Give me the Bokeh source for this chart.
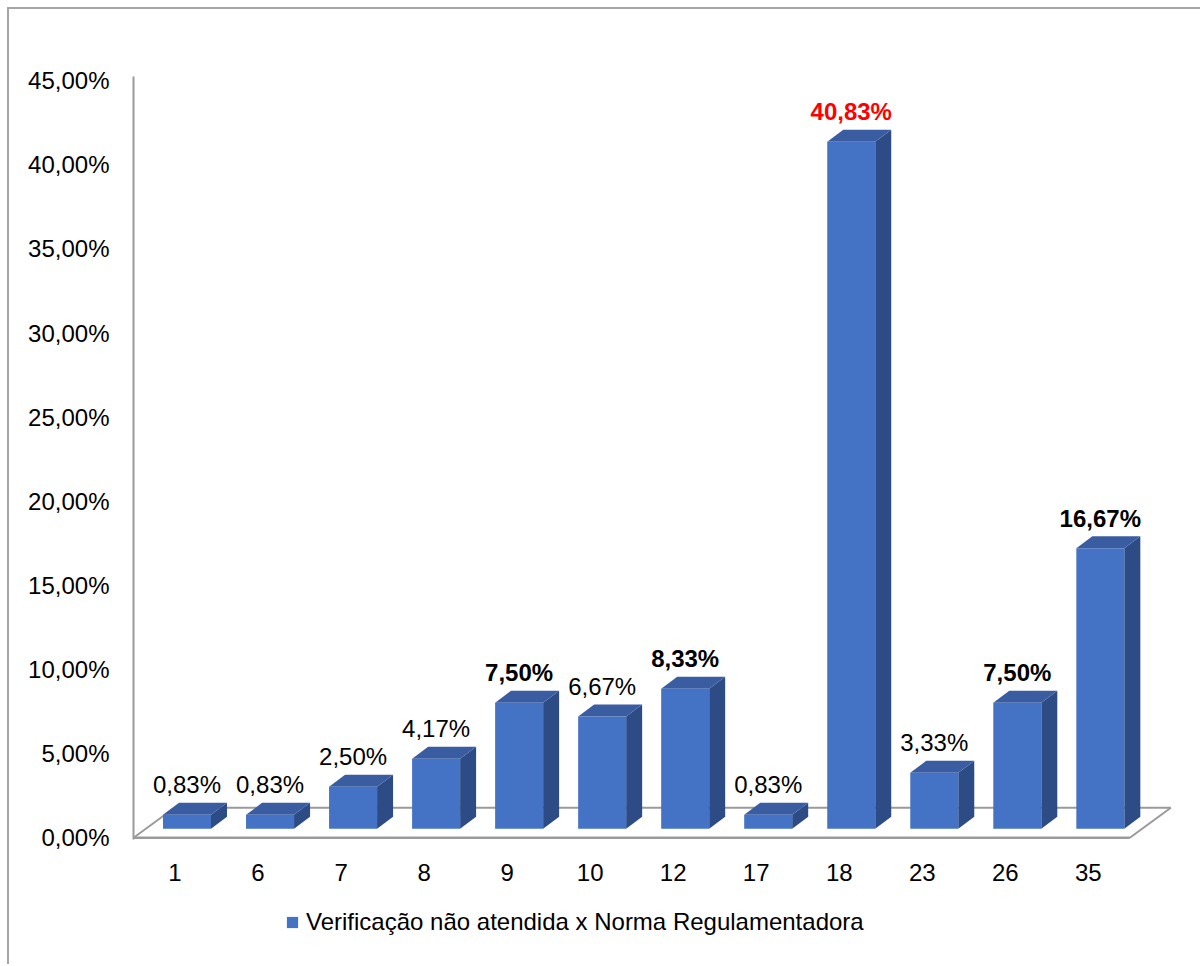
from bokeh.plotting import figure
from bokeh.layouts import column
from bokeh.models import Range1d, FixedTicker, ColumnDataSource, Legend, LegendItem
from bokeh.core.properties import value
from bokeh.embed import file_html
from bokeh.resources import INLINE

# ---------------- data ----------------
CATEGORIES = ["1", "6", "7", "8", "9", "10", "12", "17", "18", "23", "26", "35"]
VALUES = [0.83, 0.83, 2.50, 4.17, 7.50, 6.67, 8.33, 0.83, 40.83, 3.33, 7.50, 16.67]
Y_TICKS = [0, 5, 10, 15, 20, 25, 30, 35, 40, 45]
Y_TICK_LABELS = ["0,00%", "5,00%", "10,00%", "15,00%", "20,00%",
                 "25,00%", "30,00%", "35,00%", "40,00%", "45,00%"]
SERIES_NAME = "Verificação não atendida x Norma Regulamentadora"
BOLD_CATEGORIES = ["9", "12", "18", "26", "35"]
RED_CATEGORIES = ["18"]

# ---------------- style / geometry ----------------
FONT = "Liberation Sans"
FS = "24px"
W, H = 1193, 886
LEG_H = 71
ML, MT, MR, MB = 124, 67, 27, 56
X0, X1 = -0.5, 12.05
Y0, Y1 = -0.1, 45.25
PXX = (W - ML - MR) / (X1 - X0)
PXY = (H - MT - MB) / (Y1 - Y0)

BAR_SHIFT = 12 / PXX
HALF = 24 / PXX
BASE = 9 / PXY
DDX = 16 / PXX
DDY = 12 / PXY
FDX = 41 / PXX
FDY = 30 / PXY

FRONT = "#4472C4"
TOP = "#3A5DA2"
SIDE = "#2D4B84"
GRAY = "#9A9A9A"

n = len(CATEGORIES)
cx = [i + BAR_SHIFT for i in range(n)]
left = [c - HALF for c in cx]
right = [c + HALF for c in cx]
bottom = [BASE] * n
top = [BASE + v for v in VALUES]

top_xs = [[l, r, r + DDX, l + DDX] for l, r in zip(left, right)]
top_ys = [[t, t, t + DDY, t + DDY] for t in top]
side_xs = [[r, r + DDX, r + DDX, r] for r in right]
side_ys = [[BASE, BASE + DDY, t + DDY, t] for t in top]

labels = [f"{v:.2f}".replace(".", ",") + "%" for v in VALUES]
styles_ = ["bold" if c in BOLD_CATEGORIES else "normal" for c in CATEGORIES]
colors_ = ["#FF0000" if c in RED_CATEGORIES else "#000000" for c in CATEGORIES]

p = figure(width=W, height=H, output_backend="svg", toolbar_location=None,
           x_range=Range1d(X0, X1), y_range=Range1d(Y0, Y1),
           min_border_left=ML, min_border_top=MT, min_border_right=MR, min_border_bottom=MB)
p.outline_line_color = None
p.xgrid.visible = False
p.ygrid.visible = False
p.background_fill_color = "white"
p.border_fill_color = "white"

# floor
xa, xb = -0.5, n - 0.5
p.line([xa, xb], [0, 0], line_color=GRAY, line_width=2.5)
p.multi_line([[xa + FDX, xb + FDX], [xa, xa + FDX], [xb, xb + FDX]],
             [[FDY, FDY], [0, FDY], [0, FDY]], line_color=GRAY, line_width=2)

# bars
src = ColumnDataSource(dict(left=left, right=right, bottom=bottom, top=top,
                            cx=cx, ly=[t + DDY for t in top], label=labels,
                            fstyle=styles_, fcolor=colors_,
                            top_xs=top_xs, top_ys=top_ys, side_xs=side_xs, side_ys=side_ys))
p.patches("side_xs", "side_ys", source=src, fill_color=SIDE, line_color=None)
p.patches("top_xs", "top_ys", source=src, fill_color=TOP, line_color=None)
p.quad(left="left", right="right", bottom="bottom", top="top", source=src,
       fill_color=FRONT, line_color=None)

p.text(x="cx", y="ly", text="label", source=src, text_align="center",
       text_baseline="alphabetic", y_offset=-18, text_font=value(FONT),
       text_font_size=FS, text_font_style="fstyle", text_color="fcolor")

# axes
yax = p.yaxis[0]
yax.ticker = FixedTicker(ticks=Y_TICKS)
yax.major_label_overrides = {t: l for t, l in zip(Y_TICKS, Y_TICK_LABELS)}
yax.axis_line_color = GRAY
yax.axis_line_width = 2
yax.major_tick_line_color = None
yax.minor_tick_line_color = None
yax.major_label_standoff = 18
yax.major_label_text_font = FONT
yax.major_label_text_font_size = FS
yax.major_label_text_color = "black"

xax = p.xaxis[0]
xax.ticker = FixedTicker(ticks=list(range(n)))
xax.major_label_overrides = {i: c for i, c in enumerate(CATEGORIES)}
xax.axis_line_color = None
xax.major_tick_line_color = None
xax.minor_tick_line_color = None
xax.major_label_standoff = 18
xax.major_label_text_font = FONT
xax.major_label_text_font_size = FS
xax.major_label_text_color = "black"

# legend strip (its frame is aligned with the main plot's frame by the column layout)
lg = figure(width=W, height=LEG_H, output_backend="svg", toolbar_location=None,
            x_range=Range1d(0, 1), y_range=Range1d(0, 1),
            min_border=0, min_border_left=0, min_border_right=0,
            min_border_top=0, min_border_bottom=0)
lg.axis.visible = False
lg.grid.visible = False
lg.outline_line_color = None
lg.background_fill_color = "white"
lg.border_fill_color = "white"
# legend-only swatch: one glyph placed outside the visible range
swatch = lg.quad(left=[-10], right=[-9], bottom=[-10], top=[-9],
                 fill_color=FRONT, line_color=None)
legend = Legend(items=[LegendItem(label=SERIES_NAME, renderers=[swatch])],
                location=(152, 30), glyph_width=14, glyph_height=14,
                label_text_font=FONT, label_text_font_size=FS, label_text_color="black",
                label_standoff=7, padding=0, margin=0, border_line_color=None,
                background_fill_alpha=0)
lg.add_layout(legend, "center")

layout = column(p, lg, spacing=0, margin=(9, 0, 0, 9),
                styles={"box-shadow": "-2px -2px 0 0 #A6A6A6", "background": "white"})

open("out.html", "w").write(file_html(layout, INLINE))
